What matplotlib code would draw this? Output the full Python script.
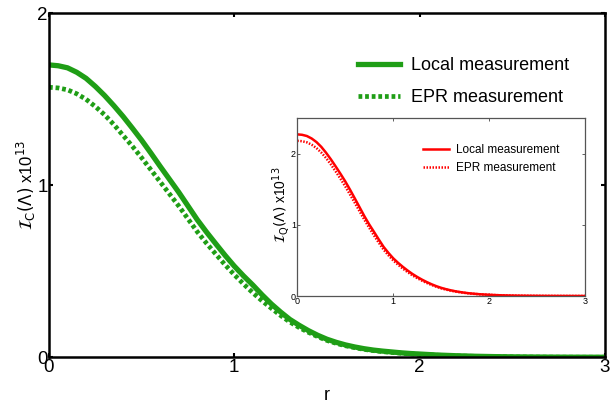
import numpy as np
import matplotlib
matplotlib.use("Agg")
from matplotlib import pyplot as plt

plt.rcParams['font.family'] = ['Liberation Sans', 'DejaVu Sans']
plt.rcParams['mathtext.fontset'] = 'dejavusans'

# squeezing parameter r (finer steps where the curves bend)
r = [0.00, 0.05, 0.10, 0.15, 0.20, 0.25, 0.30, 0.35, 0.40, 0.45,
     0.50, 0.55, 0.60, 0.65, 0.70, 0.75, 0.80, 0.85, 0.90, 0.95,
     1.00, 1.05, 1.10, 1.15, 1.20, 1.25, 1.30, 1.35, 1.40, 1.45,
     1.50, 1.55, 1.60, 1.65, 1.70, 1.75, 1.80, 1.85, 1.90, 1.95,
     2.0, 2.1, 2.2, 2.3, 2.4, 2.5, 2.6, 2.7, 2.8, 2.9, 3.0]

# classical Fisher info (x1e13), main panel
ic_local = [1.700, 1.695, 1.683, 1.657, 1.622, 1.575, 1.522, 1.463, 1.400, 1.332,
            1.262, 1.187, 1.110, 1.035, 0.960, 0.880, 0.800, 0.728, 0.660, 0.593,
            0.530, 0.473, 0.420, 0.363, 0.310, 0.263, 0.220, 0.186, 0.155, 0.128,
            0.105, 0.087, 0.072, 0.060, 0.050, 0.042, 0.036, 0.031, 0.026, 0.022,
            0.019, 0.013, 0.009, 0.006, 0.004, 0.0025, 0.0016, 0.001, 0.0006, 0.0004, 0.0002]
ic_epr = [1.570, 1.566, 1.555, 1.532, 1.500, 1.458, 1.410, 1.353, 1.290, 1.227,
          1.160, 1.090, 1.020, 0.950, 0.880, 0.805, 0.730, 0.663, 0.600, 0.538,
          0.480, 0.426, 0.375, 0.328, 0.285, 0.243, 0.205, 0.173, 0.145, 0.120,
          0.098, 0.081, 0.067, 0.056, 0.046, 0.039, 0.033, 0.028, 0.024, 0.020,
          0.017, 0.012, 0.008, 0.0055, 0.0037, 0.0023, 0.0015, 0.0009, 0.0006, 0.0004, 0.0002]

# quantum Fisher info (x1e13), inset
iq_local = [2.270, 2.264, 2.247, 2.212, 2.162, 2.095, 2.012, 1.920, 1.820, 1.717,
            1.610, 1.493, 1.370, 1.245, 1.120, 1.005, 0.900, 0.793, 0.690, 0.606,
            0.530, 0.467, 0.410, 0.358, 0.310, 0.268, 0.230, 0.196, 0.165, 0.138,
            0.115, 0.096, 0.080, 0.066, 0.055, 0.045, 0.037, 0.031, 0.025, 0.021,
            0.017, 0.011, 0.007, 0.0045, 0.003, 0.002, 0.0012, 0.0008, 0.0005, 0.0003, 0.0002]
iq_epr = [2.180, 2.174, 2.158, 2.125, 2.078, 2.015, 1.938, 1.848, 1.750, 1.647,
          1.540, 1.425, 1.308, 1.188, 1.070, 0.958, 0.850, 0.748, 0.650, 0.572,
          0.500, 0.440, 0.385, 0.336, 0.290, 0.251, 0.215, 0.183, 0.155, 0.130,
          0.108, 0.090, 0.075, 0.062, 0.052, 0.043, 0.035, 0.029, 0.024, 0.020,
          0.016, 0.011, 0.007, 0.0045, 0.003, 0.002, 0.0012, 0.0008, 0.0005, 0.0003, 0.0002]

green = '#1f9e16'
red = '#ff0000'

fig = plt.figure(figsize=(6.16, 4.03), dpi=100)
ax = fig.add_axes([0.0795, 0.1134, 0.9026, 0.8536])
ax.plot(r, ic_local, color=green, lw=3.8, solid_joinstyle='round', label='Local measurement')
ax.plot(r, ic_epr, color=green, lw=3.4, ls=(0, (0.8, 0.6)), label='EPR measurement')
ax.set_xlim(0, 3)
ax.set_ylim(0, 2)
ax.set_xticks([0, 1, 2, 3])
ax.set_yticks([0, 1, 2])
ax.tick_params(direction='in', length=3, width=1.5, labelsize=13.5, pad=1,
               top=True, right=True)
for s in ax.spines.values():
    s.set_linewidth(1.8)
ax.set_xlabel('r', fontsize=13, labelpad=8)
ax.set_ylabel(r'$\mathcal{I}_{\mathrm{C}}(\Lambda)$ x10$^{13}$', fontsize=12)
ax.yaxis.set_label_coords(-0.02, 0.5)
ax.legend(loc='upper left', bbox_to_anchor=(0.527, 0.92), frameon=False,
          fontsize=13, handlelength=2.3, handletextpad=0.6, labelspacing=0.85)

# inset
ins = fig.add_axes([0.4826, 0.2655, 0.4671, 0.4417])
ins.plot(r, iq_local, color=red, lw=1.8, solid_joinstyle='round', label='Local measurement')
ins.plot(r, iq_epr, color=red, lw=1.8, ls=(0, (0.6, 0.6)), label='EPR measurement')
ins.set_xlim(0, 3)
ins.set_ylim(0, 2.5)
ins.set_xticks([0, 1, 2, 3])
ins.set_yticks([0, 1, 2])
ins.tick_params(direction='in', length=2, width=0.6, labelsize=6.5, pad=1,
                top=True, right=True, color='#444444')
for s in ins.spines.values():
    s.set_linewidth(0.9)
    s.set_color('#555555')
ins.set_ylabel(r'$\mathcal{I}_{\mathrm{Q}}(\Lambda)$ x10$^{13}$', fontsize=10)
ins.yaxis.set_label_coords(-0.02, 0.51)
ins.legend(loc='upper left', bbox_to_anchor=(0.40, 0.915), frameon=False,
           fontsize=8.5, handlelength=2.2, handletextpad=0.6, labelspacing=0.55)

fig.savefig('out.png', dpi=100, facecolor='white')
